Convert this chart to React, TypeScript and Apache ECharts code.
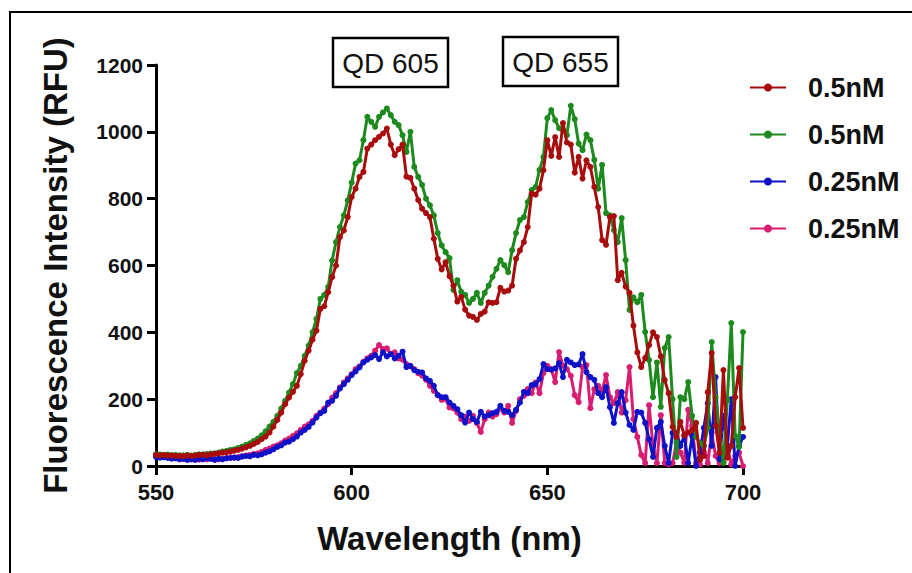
import React, { useEffect, useRef } from "react";
import * as echarts from "echarts";

const wavelengths: number[] = [];
for (let w = 550; w <= 700; w++) wavelengths.push(w);

const redValues = [
  33, 32, 33, 31, 32, 30, 31, 29, 32, 30, 31, 33, 34, 32, 35, 36, 38, 40, 41, 43,
  46, 48, 52, 56, 60, 66, 72, 80, 88, 100, 118, 138, 160, 185, 205, 222, 240, 275, 315, 345,
  378, 405, 470, 478, 520, 565, 600, 685, 705, 745, 805, 830, 865, 880, 950, 962, 975, 985, 995, 1010,
  962, 930, 948, 962, 866, 862, 830, 796, 770, 757, 745, 680, 620, 588, 610, 568, 540, 492, 506, 468,
  450, 446, 437, 455, 462, 490, 488, 490, 533, 522, 525, 540, 620, 645, 670, 715, 815, 812, 830, 885,
  975, 928, 984, 925, 1026, 968, 962, 878, 925, 860, 915, 895, 835, 775, 676, 662, 745, 748, 556, 578,
  537, 518, 420, 340, 296, 323, 362, 400, 386, 328, 257, 218, 117, 87, 132, 92, 100, 108, 129, 18,
  30, 221, 338, 120, 40, 287, 25, 60, 206, 293, 114,
];

const greenValues = [
  35, 34, 33, 34, 32, 33, 31, 32, 33, 31, 33, 35, 34, 36, 37, 38, 40, 43, 45, 48,
  50, 54, 58, 63, 68, 75, 82, 92, 104, 118, 132, 150, 172, 195, 220, 245, 278, 300, 330, 360,
  400, 440, 500, 512, 536, 615, 670, 715, 750, 795, 848, 905, 915, 975, 1045, 1030, 1015, 1045, 1058, 1070,
  1050, 1030, 1020, 990, 940, 1000, 895, 865, 841, 800, 780, 750, 697, 660, 640, 622, 527, 556, 521, 512,
  488, 500, 518, 488, 518, 540, 566, 590, 616, 601, 580, 646, 697, 736, 745, 790, 826, 835, 886, 925,
  1041, 1065, 1035, 1011, 1005, 990, 1078, 1038, 965, 945, 992, 975, 916, 830, 901, 757, 750, 706, 670, 742,
  616, 467, 505, 490, 512, 401, 317, 206, 310, 177, 353, 386, 200, 27, 206, 200, 251, 150, 87, 69,
  60, 114, 371, 206, 100, 9, 197, 428, 90, 57, 401,
];

const blueValues = [
  27, 25, 26, 24, 22, 23, 20, 22, 18, 20, 18, 22, 20, 24, 21, 19, 22, 20, 23, 24,
  26, 24, 28, 30, 29, 33, 32, 35, 40, 44, 50, 57, 62, 70, 73, 80, 88, 100, 108, 117,
  130, 145, 158, 165, 190, 195, 210, 232, 245, 258, 272, 283, 295, 310, 318, 325, 332, 320, 340, 328,
  335, 322, 330, 342, 296, 300, 287, 282, 280, 262, 255, 240, 212, 206, 206, 190, 180, 170, 152, 130,
  160, 140, 132, 162, 148, 152, 158, 162, 180, 165, 162, 152, 168, 190, 222, 218, 242, 245, 260, 305,
  290, 288, 292, 308, 266, 318, 310, 302, 304, 335, 281, 266, 258, 218, 206, 236, 176, 129, 188, 221,
  160, 123, 108, 162, 160, 129, 80, 27, 114, 132, 60, 9, 99, 99, 60, 90, 9, 90, 0, 40,
  114, 188, 60, 266, 20, 150, 60, 200, 0, 60, 87,
];

const pinkValues = [
  30, 28, 27, 26, 25, 24, 22, 21, 23, 20, 22, 19, 22, 20, 23, 18, 20, 22, 24, 25,
  24, 27, 30, 31, 33, 36, 38, 42, 48, 52, 58, 62, 68, 76, 82, 90, 98, 108, 118, 125,
  135, 150, 160, 172, 185, 205, 218, 235, 250, 262, 275, 290, 298, 312, 322, 330, 345, 362, 350, 352,
  335, 340, 322, 318, 305, 298, 290, 278, 270, 258, 240, 225, 212, 198, 200, 175, 172, 160, 140, 148,
  135, 150, 128, 102, 140, 160, 148, 155, 172, 160, 180, 129, 165, 200, 210, 230, 218, 250, 218, 278,
  300, 290, 251, 341, 300, 290, 270, 212, 191, 296, 302, 173, 230, 240, 225, 272, 206, 188, 221, 160,
  197, 296, 140, 87, 33, 9, 182, 60, 9, 152, 9, 5, 9, 69, 40, 10, 168, 120, 9, 5,
  60, 9, 100, 30, 9, 12, 60, 5, 30, 40, 0,
];

const seriesNames = ["0.5nM#1", "0.5nM#2", "0.25nM#1", "0.25nM#2"];
const seriesColors = ["#a80c0c", "#1c8a1c", "#0e12c8", "#d81c72"];
const xTicks = { min: 550, max: 700, interval: 50 };
const yTicks = { min: 0, max: 1200, interval: 200 };
const annotations = [
  { label: "QD 605", x: 333, y: 38 },
  { label: "QD 655", x: 503, y: 37 },
];

const FONT = '"Liberation Sans", Arial, Helvetica, sans-serif';

export default function App() {
  const ref = useRef<HTMLDivElement>(null);
  useEffect(() => {
    if (!ref.current) return;
    const chart = echarts.init(ref.current, undefined, { renderer: "svg" });
    const allValues = [redValues, greenValues, blueValues, pinkValues];
    const order = [3, 2, 1, 0];
    const series = order.map((i) => ({
      name: seriesNames[i],
      type: "line",
      data: wavelengths.map((w, k) => [w, allValues[i][k]]),
      symbol: "circle",
      symbolSize: 6,
      showSymbol: true,
      lineStyle: { width: 3, color: seriesColors[i] },
      itemStyle: { color: seriesColors[i] },
      z: 2 + (3 - i),
    }));
    const graphics: any[] = [
      {
        type: "rect",
        shape: { x: 10, y: 12, width: 1000, height: 1000 },
        style: { fill: "none", stroke: "#000", lineWidth: 2 },
        silent: true,
      },
    ];
    annotations.forEach((a) => {
      graphics.push({
        type: "group",
        x: a.x,
        y: a.y,
        children: [
          {
            type: "rect",
            shape: { x: 0, y: 0, width: 115, height: 49 },
            style: { fill: "#fff", stroke: "#000", lineWidth: 2.5 },
          },
          {
            type: "text",
            x: 57.5,
            y: 25,
            style: {
              text: a.label,
              font: `28px ${FONT}`,
              fill: "#111",
              align: "center",
              verticalAlign: "middle",
            },
          },
        ],
      });
    });
    chart.setOption({
      animation: false,
      backgroundColor: "#fff",
      grid: { left: 156, right: 169, top: 65, bottom: 107 },
      legend: {
        orient: "vertical",
        left: 744,
        top: 69,
        itemWidth: 36,
        itemHeight: 10,
        itemGap: 20,
        data: seriesNames,
        formatter: (n: string) => n.split("#")[0],
        textStyle: {
          fontFamily: FONT,
          fontWeight: "bold",
          fontSize: 27,
          color: "#111",
          padding: [0, 0, 0, 17],
        },
      },
      xAxis: {
        type: "value",
        min: xTicks.min,
        max: xTicks.max,
        interval: xTicks.interval,
        name: "Wavelength (nm)",
        nameLocation: "middle",
        nameGap: 56,
        nameTextStyle: { fontFamily: FONT, fontWeight: "bold", fontSize: 33, color: "#111" },
        axisLine: { lineStyle: { color: "#000", width: 3 } },
        axisTick: { inside: false, length: 9, lineStyle: { color: "#000", width: 3 } },
        axisLabel: {
          fontFamily: FONT,
          fontWeight: "bold",
          fontSize: 22,
          color: "#111",
          margin: 15,
          formatter: (v: number) => String(v),
        },
        splitLine: { show: false },
      },
      yAxis: {
        type: "value",
        min: yTicks.min,
        max: yTicks.max,
        interval: yTicks.interval,
        name: "Fluorescence Intensity (RFU)",
        nameLocation: "middle",
        nameGap: 84,
        nameTextStyle: { fontFamily: FONT, fontWeight: "bold", fontSize: 33, color: "#111" },
        axisLine: { lineStyle: { color: "#000", width: 3 } },
        axisTick: { inside: false, length: 9, lineStyle: { color: "#000", width: 3 } },
        axisLabel: {
          fontFamily: FONT,
          fontWeight: "bold",
          fontSize: 21,
          color: "#111",
          margin: 13,
          formatter: (v: number) => String(v),
        },
        splitLine: { show: false },
      },
      graphic: graphics,
      series,
    });
    return () => chart.dispose();
  }, []);
  return (
    <div
      ref={ref}
      style={{ position: "fixed", left: 0, top: 0, width: 912, height: 573 }}
    />
  );
}
